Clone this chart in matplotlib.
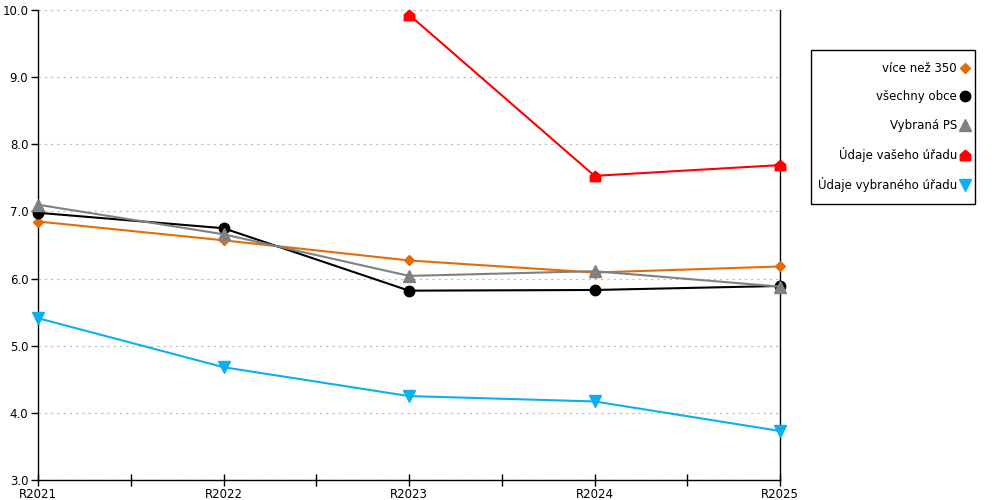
import matplotlib
matplotlib.use("Agg")
import matplotlib.pyplot as plt
import numpy as np
from matplotlib.path import Path
from matplotlib.lines import Line2D
from matplotlib.patches import Rectangle

categories = ["R2021", "R2022", "R2023", "R2024", "R2025"]
vice_nez_350 = [6.85, 6.57, 6.27, 6.09, 6.18]
vsechny_obce = [6.98, 6.75, 5.82, 5.83, 5.89]
vybrana_ps = [7.10, 6.66, 6.04, 6.11, 5.88]
vaseho_uradu = [np.nan, np.nan, 9.93, 7.53, 7.69]
vybraneho_uradu = [5.41, 4.68, 4.25, 4.17, 3.73]
yticks = [3.0, 4.0, 5.0, 6.0, 7.0, 8.0, 9.0, 10.0]

house = Path([(-1, -1), (1, -1), (1, 0.15), (0, 1), (-1, 0.15), (-1, -1)],
             [Path.MOVETO, Path.LINETO, Path.LINETO, Path.LINETO, Path.LINETO, Path.CLOSEPOLY])

plt.rcParams['font.family'] = ['DejaVu Sans']
fig = plt.figure(figsize=(10, 5), dpi=100)
ax = fig.add_axes([0.038, 0.04, 0.742, 0.94])

x = np.arange(len(categories))
series = [
    ("více než 350", vice_nez_350, "#E36C0A", "D", 5.5),
    ("všechny obce", vsechny_obce, "#000000", "o", 7.5),
    ("Vybraná PS", vybrana_ps, "#808080", "^", 8),
    ("Údaje vašeho úřadu", vaseho_uradu, "#FF0000", house, 7.5),
    ("Údaje vybraného úřadu", vybraneho_uradu, "#0DAFEF", "v", 8),
]
handles = []
for name, vals, col, mk, ms in series:
    ax.plot(x, vals, color=col, lw=1.5, marker=mk, markersize=ms, clip_on=False, zorder=3)
    handles.append(Line2D([], [], color=col, marker=mk, markersize=ms, linestyle="none", label=name))

ax.set_xlim(0, 4)
ax.set_ylim(3, 10)
ax.set_yticks(yticks)
ax.set_yticklabels([f"{v:.1f}" for v in yticks])
ax.set_xticks(x)
ax.set_xticklabels(categories)
ax.set_xticks(x[:-1] + 0.5, minor=True)
ax.tick_params(axis="x", which="both", direction="inout", length=9, width=1, pad=1, labelsize=8.5)
ax.tick_params(axis="y", direction="out", length=5, width=1, pad=2, labelsize=8.5)
ax.grid(axis="y", color="#C4C4C4", linestyle=(0, (2, 3)), linewidth=0.9)
ax.spines["top"].set_visible(False)
for s in ["left", "right", "bottom"]:
    ax.spines[s].set_color("black")
    ax.spines[s].set_linewidth(1)

# legend frame
fig.patches.append(Rectangle((0.8105, 0.592), 0.164, 0.308, transform=fig.transFigure,
                             fill=False, edgecolor="black", linewidth=1))
leg = fig.legend(handles=handles, loc="upper right", bbox_to_anchor=(0.970, 0.876),
                 markerfirst=False, frameon=False,
                 fontsize=8.5, labelspacing=1.3, handlelength=0.8, handletextpad=0.3,
                 borderpad=0, borderaxespad=0, alignment="right")
for t in leg.get_texts():
    t.set_ha("right")
leg._legend_box.align = "right"

fig.savefig("out.png", dpi=100)
